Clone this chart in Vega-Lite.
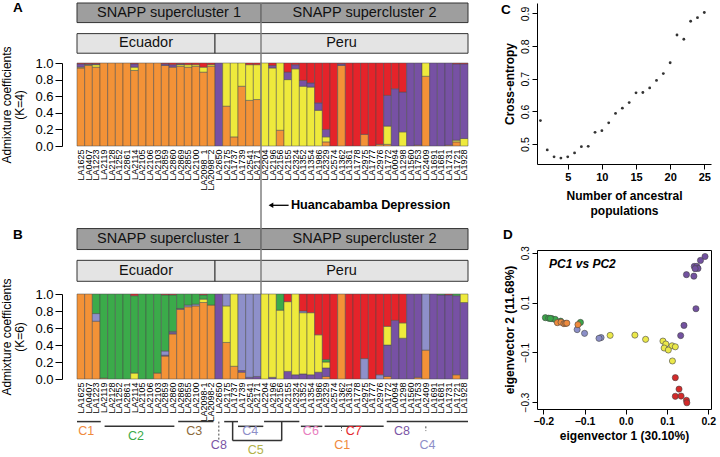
{
"$schema": "https://vega.github.io/schema/vega-lite/v6.json",
"padding": {"left": 0, "top": 0, "right": 0, "bottom": 0},
"config": {
  "font": "Liberation Sans",
  "view": {"stroke": null},
  "axis": {"grid": false, "domainColor": "#000", "tickColor": "#000", "labelColor": "#000", "titleColor": "#000", "titleFontWeight": "normal", "labelOverlap": false, "labelFlush": false},
  "title": {"color": "#000"}
},
"datasets": {
  "hdr": [
    {"level": "snapp", "label": "SNAPP supercluster 1", "start": 0, "end": 24},
    {"level": "snapp", "label": "SNAPP supercluster 2", "start": 24, "end": 51},
    {"level": "region", "label": "Ecuador", "start": 0, "end": 18},
    {"level": "region", "label": "Peru", "start": 18, "end": 51}
  ],
  "k4": [
    {"sample": "LA1625", "P1": 0.94, "P2": 0.01, "P3": 0.04, "P4": 0.01},
    {"sample": "LA0407", "P1": 0.97, "P2": 0.01, "P3": 0.01, "P4": 0.01},
    {"sample": "LA1223", "P1": 0.95, "P2": 0.03, "P3": 0.01, "P4": 0.01},
    {"sample": "LA2119", "P1": 1, "P2": 0, "P3": 0, "P4": 0},
    {"sample": "LA2128", "P1": 1, "P2": 0, "P3": 0, "P4": 0},
    {"sample": "LA1252", "P1": 1, "P2": 0, "P3": 0, "P4": 0},
    {"sample": "LA2861", "P1": 1, "P2": 0, "P3": 0, "P4": 0},
    {"sample": "LA2114", "P1": 0.91, "P2": 0.04, "P3": 0.04, "P4": 0.01},
    {"sample": "LA2105", "P1": 1, "P2": 0, "P3": 0, "P4": 0},
    {"sample": "LA2106", "P1": 1, "P2": 0, "P3": 0, "P4": 0},
    {"sample": "LA2103", "P1": 1, "P2": 0, "P3": 0, "P4": 0},
    {"sample": "LA2859", "P1": 0.97, "P2": 0, "P3": 0.02, "P4": 0.01},
    {"sample": "LA2860", "P1": 0.95, "P2": 0, "P3": 0.03, "P4": 0.02},
    {"sample": "LA2869", "P1": 0.96, "P2": 0.02, "P3": 0.01, "P4": 0.01},
    {"sample": "LA2855", "P1": 0.95, "P2": 0.03, "P3": 0, "P4": 0.02},
    {"sample": "LA2100", "P1": 0.96, "P2": 0.02, "P3": 0, "P4": 0.02},
    {"sample": "LA2098_1", "P1": 0.89, "P2": 0.06, "P3": 0, "P4": 0.05},
    {"sample": "LA2098_2", "P1": 0.96, "P2": 0.02, "P3": 0, "P4": 0.02},
    {"sample": "LA2650", "P1": 0, "P2": 0, "P3": 1, "P4": 0},
    {"sample": "LA2175", "P1": 0.48, "P2": 0.52, "P3": 0, "P4": 0},
    {"sample": "LA1737", "P1": 0.11, "P2": 0.89, "P3": 0, "P4": 0},
    {"sample": "LA1739", "P1": 0.72, "P2": 0.28, "P3": 0, "P4": 0},
    {"sample": "LA2541", "P1": 0.55, "P2": 0.43, "P3": 0, "P4": 0.02},
    {"sample": "LA2171", "P1": 0.56, "P2": 0.42, "P3": 0, "P4": 0.02},
    {"sample": "LA2204", "P1": 0, "P2": 1, "P3": 0, "P4": 0},
    {"sample": "LA2196", "P1": 0, "P2": 0.94, "P3": 0.03, "P4": 0.03},
    {"sample": "LA2156", "P1": 0.19, "P2": 0.81, "P3": 0, "P4": 0},
    {"sample": "LA2155", "P1": 0, "P2": 0.8, "P3": 0.09, "P4": 0.11},
    {"sample": "LA2324", "P1": 0, "P2": 0.93, "P3": 0.05, "P4": 0.02},
    {"sample": "LA1352", "P1": 0, "P2": 0.72, "P3": 0.07, "P4": 0.21},
    {"sample": "LA1354", "P1": 0, "P2": 0.71, "P3": 0.05, "P4": 0.24},
    {"sample": "LA1986", "P1": 0, "P2": 0.43, "P3": 0.09, "P4": 0.48},
    {"sample": "LA2329", "P1": 0.05, "P2": 0.06, "P3": 0.09, "P4": 0.8},
    {"sample": "LA2574", "P1": 0, "P2": 0, "P3": 0, "P4": 1},
    {"sample": "LA1362", "P1": 0.97, "P2": 0, "P3": 0.02, "P4": 0.01},
    {"sample": "LA1361", "P1": 0, "P2": 0, "P3": 0, "P4": 1},
    {"sample": "LA1778", "P1": 0, "P2": 0, "P3": 0, "P4": 1},
    {"sample": "LA2975", "P1": 0.14, "P2": 0, "P3": 0, "P4": 0.86},
    {"sample": "LA1777", "P1": 0, "P2": 0, "P3": 0, "P4": 1},
    {"sample": "LA2976", "P1": 0.02, "P2": 0, "P3": 0, "P4": 0.98},
    {"sample": "LA1772", "P1": 0.02, "P2": 0.22, "P3": 0.37, "P4": 0.39},
    {"sample": "LA0094", "P1": 0, "P2": 0, "P3": 0.69, "P4": 0.31},
    {"sample": "LA1298", "P1": 0, "P2": 0.17, "P3": 0.48, "P4": 0.35},
    {"sample": "LA1560", "P1": 0, "P2": 0, "P3": 1, "P4": 0},
    {"sample": "LA1753", "P1": 0.01, "P2": 0, "P3": 0.99, "P4": 0},
    {"sample": "LA2409", "P1": 0.84, "P2": 0.16, "P3": 0, "P4": 0},
    {"sample": "LA1691", "P1": 0, "P2": 0, "P3": 1, "P4": 0},
    {"sample": "LA1681", "P1": 0, "P2": 0, "P3": 1, "P4": 0},
    {"sample": "LA1731", "P1": 0.01, "P2": 0, "P3": 0.99, "P4": 0},
    {"sample": "LA1721", "P1": 0.05, "P2": 0.02, "P3": 0.92, "P4": 0.01},
    {"sample": "LA1928", "P1": 0, "P2": 0.09, "P3": 0.9, "P4": 0.01}
  ],
  "k6": [
    {"sample": "LA1625", "P1": 1, "P2": 0, "P3": 0, "P4": 0, "P5": 0, "P6": 0},
    {"sample": "LA0407", "P1": 1, "P2": 0, "P3": 0, "P4": 0, "P5": 0, "P6": 0},
    {"sample": "LA1223", "P1": 0.68, "P2": 0, "P3": 0, "P4": 0.09, "P5": 0.23, "P6": 0},
    {"sample": "LA2119", "P1": 0.01, "P2": 0, "P3": 0, "P4": 0, "P5": 0.99, "P6": 0},
    {"sample": "LA2128", "P1": 0, "P2": 0, "P3": 0, "P4": 0, "P5": 1, "P6": 0},
    {"sample": "LA1252", "P1": 0, "P2": 0, "P3": 0, "P4": 0, "P5": 1, "P6": 0},
    {"sample": "LA2861", "P1": 0, "P2": 0, "P3": 0, "P4": 0, "P5": 1, "P6": 0},
    {"sample": "LA2114", "P1": 0, "P2": 0, "P3": 0.07, "P4": 0, "P5": 0.91, "P6": 0.02},
    {"sample": "LA2105", "P1": 0, "P2": 0, "P3": 0, "P4": 0, "P5": 1, "P6": 0},
    {"sample": "LA2106", "P1": 0, "P2": 0, "P3": 0, "P4": 0, "P5": 1, "P6": 0},
    {"sample": "LA2103", "P1": 0.07, "P2": 0, "P3": 0, "P4": 0, "P5": 0.93, "P6": 0},
    {"sample": "LA2859", "P1": 0.27, "P2": 0.01, "P3": 0, "P4": 0.05, "P5": 0.66, "P6": 0.01},
    {"sample": "LA2860", "P1": 0.53, "P2": 0.02, "P3": 0, "P4": 0.01, "P5": 0.43, "P6": 0.01},
    {"sample": "LA2869", "P1": 0.82, "P2": 0.01, "P3": 0, "P4": 0, "P5": 0.17, "P6": 0},
    {"sample": "LA2855", "P1": 0.85, "P2": 0, "P3": 0, "P4": 0.02, "P5": 0.13, "P6": 0},
    {"sample": "LA2100", "P1": 0.86, "P2": 0, "P3": 0, "P4": 0.02, "P5": 0.12, "P6": 0},
    {"sample": "LA2098-1", "P1": 0.9, "P2": 0, "P3": 0.04, "P4": 0, "P5": 0.05, "P6": 0.01},
    {"sample": "LA2098-2", "P1": 0.87, "P2": 0, "P3": 0, "P4": 0, "P5": 0.13, "P6": 0},
    {"sample": "LA2650", "P1": 0, "P2": 1, "P3": 0, "P4": 0, "P5": 0, "P6": 0},
    {"sample": "LA2175", "P1": 0.43, "P2": 0, "P3": 0.43, "P4": 0.14, "P5": 0, "P6": 0},
    {"sample": "LA1737", "P1": 0.15, "P2": 0, "P3": 0.85, "P4": 0, "P5": 0, "P6": 0},
    {"sample": "LA1739", "P1": 0.08, "P2": 0.02, "P3": 0, "P4": 0.9, "P5": 0, "P6": 0},
    {"sample": "LA2541", "P1": 0, "P2": 0.02, "P3": 0, "P4": 0.98, "P5": 0, "P6": 0},
    {"sample": "LA2171", "P1": 0, "P2": 0.03, "P3": 0, "P4": 0.97, "P5": 0, "P6": 0},
    {"sample": "LA2204", "P1": 0, "P2": 0, "P3": 1, "P4": 0, "P5": 0, "P6": 0},
    {"sample": "LA2196", "P1": 0, "P2": 0.02, "P3": 0.98, "P4": 0, "P5": 0, "P6": 0},
    {"sample": "LA2156", "P1": 0, "P2": 0, "P3": 0.81, "P4": 0, "P5": 0.19, "P6": 0},
    {"sample": "LA2155", "P1": 0, "P2": 0.09, "P3": 0.82, "P4": 0, "P5": 0, "P6": 0.09},
    {"sample": "LA2324", "P1": 0, "P2": 0.05, "P3": 0.95, "P4": 0, "P5": 0, "P6": 0},
    {"sample": "LA1352", "P1": 0, "P2": 0.06, "P3": 0.72, "P4": 0.02, "P5": 0, "P6": 0.2},
    {"sample": "LA1354", "P1": 0, "P2": 0.05, "P3": 0.73, "P4": 0, "P5": 0, "P6": 0.22},
    {"sample": "LA1986", "P1": 0, "P2": 0.08, "P3": 0.44, "P4": 0, "P5": 0, "P6": 0.48},
    {"sample": "LA2329", "P1": 0.03, "P2": 0.1, "P3": 0.07, "P4": 0, "P5": 0.03, "P6": 0.77},
    {"sample": "LA2574", "P1": 0, "P2": 0, "P3": 0, "P4": 0, "P5": 0, "P6": 1},
    {"sample": "LA1362", "P1": 1, "P2": 0, "P3": 0, "P4": 0, "P5": 0, "P6": 0},
    {"sample": "LA1361", "P1": 0, "P2": 0, "P3": 0, "P4": 0, "P5": 0, "P6": 1},
    {"sample": "LA1778", "P1": 0, "P2": 0, "P3": 0, "P4": 0, "P5": 0, "P6": 1},
    {"sample": "LA2975", "P1": 0, "P2": 0, "P3": 0, "P4": 0.24, "P5": 0, "P6": 0.76},
    {"sample": "LA1777", "P1": 0, "P2": 0, "P3": 0, "P4": 0, "P5": 0, "P6": 1},
    {"sample": "LA2976", "P1": 0, "P2": 0, "P3": 0, "P4": 0.05, "P5": 0, "P6": 0.95},
    {"sample": "LA1772", "P1": 0.03, "P2": 0.37, "P3": 0.22, "P4": 0, "P5": 0, "P6": 0.38},
    {"sample": "LA0094", "P1": 0, "P2": 0.69, "P3": 0, "P4": 0, "P5": 0, "P6": 0.31},
    {"sample": "LA1298", "P1": 0, "P2": 0.48, "P3": 0.18, "P4": 0, "P5": 0, "P6": 0.34},
    {"sample": "LA1560", "P1": 0, "P2": 1, "P3": 0, "P4": 0, "P5": 0, "P6": 0},
    {"sample": "LA1753", "P1": 0.02, "P2": 0.98, "P3": 0, "P4": 0, "P5": 0, "P6": 0},
    {"sample": "LA2409", "P1": 0.34, "P2": 0, "P3": 0, "P4": 0.66, "P5": 0, "P6": 0},
    {"sample": "LA1691", "P1": 0, "P2": 1, "P3": 0, "P4": 0, "P5": 0, "P6": 0},
    {"sample": "LA1681", "P1": 0, "P2": 0.99, "P3": 0, "P4": 0, "P5": 0.01, "P6": 0},
    {"sample": "LA1731", "P1": 0, "P2": 0.99, "P3": 0, "P4": 0, "P5": 0, "P6": 0.01},
    {"sample": "LA1721", "P1": 0.05, "P2": 0.93, "P3": 0, "P4": 0, "P5": 0.02, "P6": 0},
    {"sample": "LA1928", "P1": 0, "P2": 0.9, "P3": 0.1, "P4": 0, "P5": 0, "P6": 0}
  ],
  "ce": [
    {"K": 1, "ce": 0.572}, {"K": 2, "ce": 0.482}, {"K": 3, "ce": 0.461}, {"K": 4, "ce": 0.457}, {"K": 5, "ce": 0.461},
    {"K": 6, "ce": 0.473}, {"K": 7, "ce": 0.492}, {"K": 8, "ce": 0.493}, {"K": 9, "ce": 0.536}, {"K": 10, "ce": 0.541},
    {"K": 11, "ce": 0.565}, {"K": 12, "ce": 0.594}, {"K": 13, "ce": 0.61}, {"K": 14, "ce": 0.627}, {"K": 15, "ce": 0.657},
    {"K": 16, "ce": 0.658}, {"K": 17, "ce": 0.672}, {"K": 18, "ce": 0.695}, {"K": 19, "ce": 0.716}, {"K": 20, "ce": 0.749},
    {"K": 21, "ce": 0.834}, {"K": 22, "ce": 0.821}, {"K": 23, "ce": 0.876}, {"K": 24, "ce": 0.887}, {"K": 25, "ce": 0.903}
  ],
  "pca": [
    {"g": "P2", "pc1": 0.192, "pc2": 0.285}, {"g": "P2", "pc1": 0.181, "pc2": 0.269}, {"g": "P2", "pc1": 0.166, "pc2": 0.245},
    {"g": "P2", "pc1": 0.172, "pc2": 0.245}, {"g": "P2", "pc1": 0.175, "pc2": 0.237}, {"g": "P2", "pc1": 0.168, "pc2": 0.236},
    {"g": "P2", "pc1": 0.147, "pc2": 0.212}, {"g": "P2", "pc1": 0.165, "pc2": 0.206}, {"g": "P2", "pc1": 0.17, "pc2": 0.075},
    {"g": "P2", "pc1": 0.141, "pc2": 0.008}, {"g": "P2", "pc1": 0.133, "pc2": -0.033},
    {"g": "P6", "pc1": 0.12, "pc2": -0.202}, {"g": "P6", "pc1": 0.129, "pc2": -0.248}, {"g": "P6", "pc1": 0.12, "pc2": -0.277},
    {"g": "P6", "pc1": 0.134, "pc2": -0.276}, {"g": "P6", "pc1": 0.147, "pc2": -0.293}, {"g": "P6", "pc1": 0.148, "pc2": -0.303},
    {"g": "P3", "pc1": 0.09, "pc2": -0.055}, {"g": "P3", "pc1": 0.097, "pc2": -0.067}, {"g": "P3", "pc1": 0.112, "pc2": -0.074},
    {"g": "P3", "pc1": 0.12, "pc2": -0.078}, {"g": "P3", "pc1": 0.093, "pc2": -0.083}, {"g": "P3", "pc1": 0.103, "pc2": -0.091},
    {"g": "P3", "pc1": 0.113, "pc2": -0.135}, {"g": "P3", "pc1": 0.048, "pc2": -0.048}, {"g": "P3", "pc1": 0.022, "pc2": -0.031},
    {"g": "P3", "pc1": -0.038, "pc2": -0.032},
    {"g": "P4", "pc1": -0.06, "pc2": -0.041}, {"g": "P4", "pc1": -0.065, "pc2": -0.044}, {"g": "P4", "pc1": -0.1, "pc2": -0.024},
    {"g": "P4", "pc1": -0.118, "pc2": -0.009},
    {"g": "P5", "pc1": -0.195, "pc2": 0.039}, {"g": "P5", "pc1": -0.187, "pc2": 0.037}, {"g": "P5", "pc1": -0.179, "pc2": 0.035},
    {"g": "P5", "pc1": -0.171, "pc2": 0.032}, {"g": "P5", "pc1": -0.183, "pc2": 0.036}, {"g": "P5", "pc1": -0.158, "pc2": 0.025},
    {"g": "P5", "pc1": -0.11, "pc2": 0.02},
    {"g": "P1", "pc1": -0.116, "pc2": 0.011}, {"g": "P1", "pc1": -0.166, "pc2": 0.019}, {"g": "P1", "pc1": -0.157, "pc2": 0.021},
    {"g": "P1", "pc1": -0.15, "pc2": 0.015}, {"g": "P1", "pc1": -0.146, "pc2": 0.016}, {"g": "P1", "pc1": -0.143, "pc2": 0.017}
  ],
  "clines": [
    {"x0": 0, "x1": 3.1, "row": "r1"}, {"x0": 3.6, "x1": 12.7, "row": "r2"}, {"x0": 13.2, "x1": 17.8, "row": "r1"},
    {"x0": 19.2, "x1": 21.0, "row": "r1"}, {"x0": 21.0, "x1": 24.3, "row": "r2"}, {"x0": 24.4, "x1": 29.0, "row": "r1"},
    {"x0": 29.2, "x1": 32.0, "row": "r2"}, {"x0": 32.3, "x1": 40.0, "row": "r2"}, {"x0": 40.4, "x1": 51, "row": "r1"},
    {"x0": 20.3, "x1": 26.7, "row": "b"}
  ],
  "cvert": [
    {"x": 20.3, "from": "r1", "to": "b"}, {"x": 26.7, "from": "r1", "to": "b"}
  ],
  "cdots": [
    {"x": 18.5, "from": "r1", "to": "b"}, {"x": 34.5, "from": "r2", "to": "t1"}, {"x": 45.5, "from": "r2", "to": "t1"}
  ],
  "clabels": [
    {"label": "C1", "x": 1.2, "row": "t1"}, {"label": "C2", "x": 7.7, "row": "t2"}, {"label": "C3", "x": 15.3, "row": "t1"},
    {"label": "C8", "x": 18.5, "row": "t3"}, {"label": "C4", "x": 22.6, "row": "t1"}, {"label": "C5", "x": 23.3, "row": "t4"},
    {"label": "C6", "x": 30.5, "row": "t1"}, {"label": "C7", "x": 36.1, "row": "t1"}, {"label": "C1", "x": 34.6, "row": "t3"},
    {"label": "C8", "x": 42.4, "row": "t1"}, {"label": "C4", "x": 45.7, "row": "t3"}
  ]
},
"hconcat": [
  {
    "vconcat": [
      {
        "width": 391, "height": 60,
        "title": {"text": "A", "anchor": "start", "frame": "group", "offset": 0, "baseline": "top", "dx": -64, "dy": 12, "fontSize": 13.5, "fontWeight": "bold"},
        "layer": [
          {"data": {"name": "hdr"}, "mark": {"type": "rect", "stroke": "#333", "strokeWidth": 1},
           "encoding": {
             "x": {"field": "start", "type": "quantitative", "scale": {"domain": [0, 51], "nice": false, "zero": false}, "axis": null},
             "x2": {"field": "end"},
             "y": {"field": "level", "type": "nominal", "scale": {"domain": ["snapp", "region"], "paddingInner": 0.36, "paddingOuter": 0.16, "align": 0, "round": false}, "axis": null},
             "color": {"field": "level", "type": "nominal", "scale": {"domain": ["snapp", "region"], "range": ["#9e9e9e", "#e4e4e4"]}, "legend": null}
           }},
          {"data": {"name": "hdr"}, "transform": [{"calculate": "(datum.start + datum.end) / 2", "as": "mid"}],
           "mark": {"type": "text", "fontSize": 14.5, "color": "#111"},
           "encoding": {
             "x": {"field": "mid", "type": "quantitative", "axis": null},
             "y": {"field": "level", "type": "nominal", "axis": null},
             "text": {"field": "label"}
           }},
          {"data": {"values": [{}]}, "mark": {"type": "rule", "color": "#808080", "strokeWidth": 1.5},
           "encoding": {"x": {"datum": 24, "type": "quantitative", "axis": null}}}
        ]
      },
      {
        "width": 391, "height": 83,
        "layer": [
          {"data": {"name": "k4"},
           "transform": [{"fold": ["P1", "P2", "P3", "P4"], "as": ["pop", "q"]}, {"filter": "datum.q > 0"}],
           "mark": {"type": "bar", "stroke": "#4a4a4a", "strokeWidth": 0.5},
           "encoding": {
             "x": {"field": "sample", "type": "nominal", "sort": null, "scale": {"paddingInner": 0, "paddingOuter": 0},
                   "axis": {"title": null, "labelAngle": 270, "labelFontSize": 9, "ticks": false, "domain": false, "labelPadding": 3}},
             "y": {"field": "q", "type": "quantitative", "stack": "normalize", "scale": {"domain": [0, 1]},
                   "axis": {"title": ["Admixture coefficients", "(K=4)"], "values": [0, 0.2, 0.4, 0.6, 0.8, 1], "labelExpr": "format(datum.value, '.1f')", "offset": 15, "tickSize": 7, "labelFontSize": 13, "labelPadding": 2, "titleFontSize": 12, "titlePadding": 8, "titleLineHeight": 13, "labelOverlap": false}},
             "color": {"field": "pop", "type": "nominal", "scale": {"domain": ["P1", "P2", "P3", "P4"], "range": ["#f39237", "#eeea3c", "#7751a4", "#e5232a"]}, "legend": null},
             "order": {"field": "pop"}
           }},
          {"data": {"values": [{}]}, "mark": {"type": "rule", "color": "#808080", "strokeWidth": 1.5},
           "encoding": {"x": {"datum": 24, "type": "quantitative", "scale": {"domain": [0, 51], "nice": false, "zero": false}, "axis": null}}}
        ],
        "resolve": {"scale": {"x": "independent"}}
      },
      {
        "width": 391, "height": 148,
        "title": {"text": "B", "anchor": "start", "frame": "group", "offset": 0, "baseline": "top", "dx": -64, "dy": 96, "fontSize": 13.5, "fontWeight": "bold"},
        "layer": [
          {"data": {"name": "hdr"}, "mark": {"type": "rect", "stroke": "#333", "strokeWidth": 1},
           "encoding": {
             "x": {"field": "start", "type": "quantitative", "scale": {"domain": [0, 51], "nice": false, "zero": false}, "axis": null},
             "x2": {"field": "end"},
             "y": {"field": "level", "type": "nominal", "scale": {"domain": ["arrow", "snapp", "region"], "paddingInner": 0.34, "paddingOuter": 1.057, "align": 0.8, "round": false}, "axis": null},
             "color": {"field": "level", "type": "nominal", "scale": {"domain": ["snapp", "region"], "range": ["#9e9e9e", "#e4e4e4"]}, "legend": null}
           }},
          {"data": {"name": "hdr"}, "transform": [{"calculate": "(datum.start + datum.end) / 2", "as": "mid"}],
           "mark": {"type": "text", "fontSize": 14.5, "color": "#111"},
           "encoding": {
             "x": {"field": "mid", "type": "quantitative", "axis": null},
             "y": {"field": "level", "type": "nominal", "axis": null},
             "text": {"field": "label"}
           }},
          {"data": {"values": [{}]}, "mark": {"type": "rule", "color": "#000", "strokeWidth": 1.3, "yOffset": -2},
           "encoding": {"x": {"datum": 25.4, "type": "quantitative", "axis": null}, "x2": {"datum": 27.6}, "y": {"datum": "arrow", "type": "nominal", "axis": null}}},
          {"data": {"values": [{}]}, "mark": {"type": "point", "shape": "triangle-left", "filled": true, "size": 30, "color": "#000", "opacity": 1, "yOffset": -2},
           "encoding": {"x": {"datum": 25.3, "type": "quantitative", "axis": null}, "y": {"datum": "arrow", "type": "nominal", "axis": null}}},
          {"data": {"values": [{}]}, "mark": {"type": "text", "text": "Huancabamba Depression", "fontSize": 12.7, "fontWeight": "bold", "align": "left", "color": "#000", "dy": -2},
           "encoding": {"x": {"datum": 27.9, "type": "quantitative", "axis": null}, "y": {"datum": "arrow", "type": "nominal", "axis": null}}},
          {"data": {"values": [{}]}, "mark": {"type": "rule", "color": "#808080", "strokeWidth": 1.5},
           "encoding": {"x": {"datum": 24, "type": "quantitative", "axis": null}}}
        ]
      },
      {
        "width": 391, "height": 85,
        "data": {"name": "k6"},
        "transform": [{"fold": ["P1", "P2", "P3", "P4", "P5", "P6"], "as": ["pop", "q"]}, {"filter": "datum.q > 0"}],
        "mark": {"type": "bar", "stroke": "#4a4a4a", "strokeWidth": 0.5},
        "encoding": {
          "x": {"field": "sample", "type": "nominal", "sort": null, "scale": {"paddingInner": 0, "paddingOuter": 0},
                "axis": {"title": null, "labelAngle": 270, "labelFontSize": 9, "ticks": false, "domain": false, "labelPadding": 3}},
          "y": {"field": "q", "type": "quantitative", "stack": "normalize", "scale": {"domain": [0, 1]},
                "axis": {"title": ["Admixture coefficients", "(K=6)"], "values": [0, 0.2, 0.4, 0.6, 0.8, 1], "labelExpr": "format(datum.value, '.1f')", "offset": 15, "tickSize": 7, "labelFontSize": 13, "labelPadding": 2, "titleFontSize": 12, "titlePadding": 8, "titleLineHeight": 13, "labelOverlap": false}},
          "color": {"field": "pop", "type": "nominal", "scale": {"domain": ["P1", "P2", "P3", "P4", "P5", "P6"], "range": ["#f39237", "#7751a4", "#eeea3c", "#8e90ca", "#3bab4a", "#e5232a"]}, "legend": null},
          "order": {"field": "pop"}
        }
      },
      {
        "width": 391, "height": 71,
        "layer": [
          {"data": {"name": "clines"}, "mark": {"type": "rule", "color": "#333", "strokeWidth": 1.5},
           "encoding": {
             "x": {"field": "x0", "type": "quantitative", "scale": {"domain": [0, 51], "nice": false, "zero": false}, "axis": null},
             "x2": {"field": "x1"},
             "y": {"field": "row", "type": "ordinal", "scale": {"type": "point", "domain": ["p0", "p1", "p2", "p3", "p4", "p5", "p6", "p7", "p8", "r1", "r2", "t1", "t2", "b", "t3", "t4"], "padding": 0, "round": false}, "axis": null}
           }},
          {"data": {"name": "cvert"}, "mark": {"type": "rule", "color": "#333", "strokeWidth": 1.5},
           "encoding": {
             "x": {"field": "x", "type": "quantitative", "axis": null},
             "y": {"field": "from", "type": "ordinal", "axis": null},
             "y2": {"field": "to"}
           }},
          {"data": {"name": "cdots"}, "mark": {"type": "rule", "color": "#444", "strokeWidth": 1, "strokeDash": [2, 2]},
           "encoding": {
             "x": {"field": "x", "type": "quantitative", "axis": null},
             "y": {"field": "from", "type": "ordinal", "axis": null},
             "y2": {"field": "to"}
           }},
          {"data": {"name": "clabels"}, "mark": {"type": "text", "fontSize": 12.5, "baseline": "middle"},
           "encoding": {
             "x": {"field": "x", "type": "quantitative", "axis": null},
             "y": {"field": "row", "type": "ordinal", "axis": null},
             "text": {"field": "label"},
             "color": {"field": "label", "type": "nominal", "scale": {"domain": ["C1", "C2", "C3", "C4", "C5", "C6", "C7", "C8"], "range": ["#f08a3c", "#3aaa4a", "#8c6a3c", "#8e8ec8", "#b3b34a", "#e87fc0", "#e5262b", "#7a55a5"]}, "legend": null}
           }}
        ]
      }
    ],
    "spacing": 0,
    "bounds": "flush",
    "resolve": {"scale": {"color": "independent", "x": "independent"}}
  },
  {
    "vconcat": [
      {
        "width": 174, "height": 161,
        "title": {"text": "C", "anchor": "start", "frame": "group", "offset": 0, "baseline": "top", "dx": -36, "dy": 13, "fontSize": 13.5, "fontWeight": "bold"},
        "data": {"name": "ce"},
        "mark": {"type": "circle", "size": 8, "color": "#333", "opacity": 1},
        "encoding": {
          "x": {"field": "K", "type": "quantitative", "scale": {"domain": [0.5, 25.98], "nice": false, "zero": false},
                "axis": {"values": [5, 10, 15, 20, 25], "title": ["Number of ancestral", "populations"], "labelFontWeight": "bold", "labelFontSize": 11, "titleFontWeight": "bold", "titleFontSize": 12, "tickSize": 5, "titlePadding": 8, "titleLineHeight": 15, "labelOverlap": false}},
          "y": {"field": "ce", "type": "quantitative", "scale": {"domain": [0.439, 0.932], "nice": false, "zero": false},
                "axis": {"values": [0.5, 0.6, 0.7, 0.8, 0.9], "format": ".1f", "labelAngle": 270, "labelFontSize": 10.5, "title": "Cross-entropy", "titleFontWeight": "bold", "titleFontSize": 12, "tickSize": 5, "titlePadding": 4, "labelOverlap": false}}
        }
      },
      {
        "width": 174, "height": 159,
        "view": {"stroke": "#000", "strokeWidth": 1},
        "title": {"text": "D", "anchor": "start", "frame": "group", "offset": 0, "baseline": "top", "dx": -34, "dy": -4, "fontSize": 13.5, "fontWeight": "bold"},
        "layer": [
          {"data": {"name": "pca"}, "mark": {"type": "circle", "size": 38, "opacity": 1, "stroke": "#444", "strokeWidth": 0.6},
           "encoding": {
             "x": {"field": "pc1", "type": "quantitative", "scale": {"domain": [-0.2153, 0.2065], "nice": false, "zero": false},
                   "axis": {"values": [-0.2, -0.1, 0, 0.1, 0.2], "format": ".1f", "title": "eigenvector 1 (30.10%)", "labelFontWeight": "bold", "labelFontSize": 10.5, "titleFontWeight": "bold", "titleFontSize": 12, "tickSize": 5, "domain": false, "titlePadding": 4, "labelOverlap": false, "labelFlush": false}},
             "y": {"field": "pc2", "type": "quantitative", "scale": {"domain": [-0.328, 0.311], "nice": false, "zero": false},
                   "axis": {"values": [-0.3, -0.2, -0.1, 0, 0.1, 0.2, 0.3], "format": ".1f", "labelAngle": 270, "title": "eigenvector 2 (11.68%)", "labelFontSize": 10, "titleFontWeight": "bold", "titleFontSize": 12, "tickSize": 5, "domain": false, "titlePadding": 4, "labelOverlap": false, "labelFlush": false}},
             "color": {"field": "g", "type": "nominal", "scale": {"domain": ["P1", "P2", "P3", "P4", "P5", "P6"], "range": ["#ee8a3c", "#7352a0", "#ebe84a", "#8b8fc8", "#3ba64a", "#d42a2a"]}, "legend": null}
           }},
          {"data": {"values": [{}]}, "mark": {"type": "text", "text": "PC1 vs PC2", "fontStyle": "italic", "fontWeight": "bold", "fontSize": 12, "align": "left", "color": "#000"},
           "encoding": {"x": {"datum": -0.186, "type": "quantitative"}, "y": {"datum": 0.254, "type": "quantitative"}}}
        ]
      }
    ],
    "spacing": 86,
    "bounds": "flush",
    "resolve": {"scale": {"color": "independent"}}
  }
],
"spacing": 32,
"bounds": "full",
"resolve": {"scale": {"color": "independent"}}
}
